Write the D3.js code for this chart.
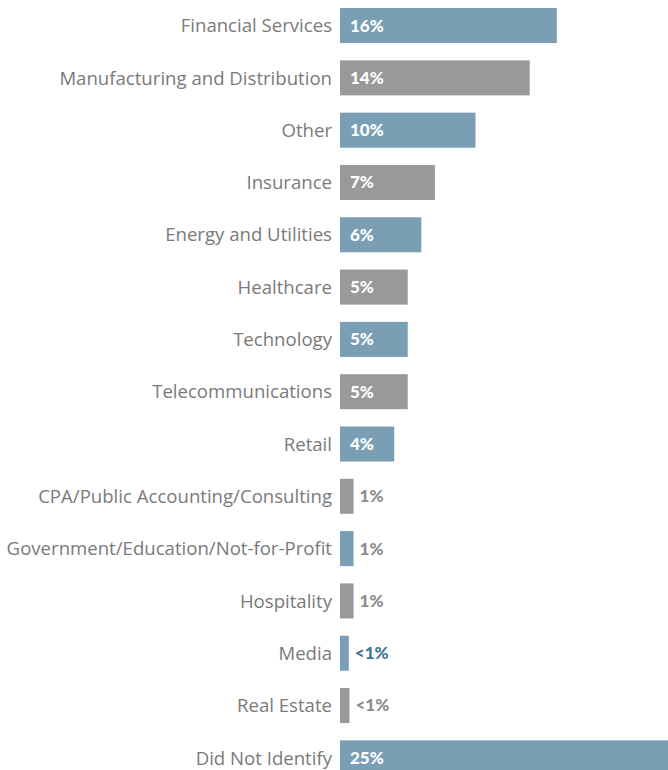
<!DOCTYPE html>
<html>
<head>
<meta charset="utf-8">
<script src="https://cdn.jsdelivr.net/npm/d3@7"></script>
<style>
  html, body { margin: 0; padding: 0; background: #fff; }
  svg { display: block; }
</style>
</head>
<body>
<svg id="chart" width="668" height="770"></svg>
<script>
// Industry breakdown of respondents
const categories = [
  "Financial Services",
  "Manufacturing and Distribution",
  "Other",
  "Insurance",
  "Energy and Utilities",
  "Healthcare",
  "Technology",
  "Telecommunications",
  "Retail",
  "CPA/Public Accounting/Consulting",
  "Government/Education/Not-for-Profit",
  "Hospitality",
  "Media",
  "Real Estate",
  "Did Not Identify"
];
const values = [16, 14, 10, 7, 6, 5, 5, 5, 4, 1, 1, 1, 0.65, 0.7, 25];
const valueLabels = ["16%", "14%", "10%", "7%", "6%", "5%", "5%", "5%", "4%", "1%", "1%", "1%", "<1%", "<1%", "25%"];

const BLUE = "#7a9fb5", GREY = "#999999";
const barColor = i => (i % 2 === 0 ? BLUE : GREY);
const x0 = 340;

const svg = d3.select("#chart");

const x = d3.scaleLinear().domain([0, 25]).range([x0, x0 + 25 * 13.55]);
const y = d3.scaleBand()
  .domain(categories)
  .range([-0.6, 784])
  .paddingInner(0.33)
  .paddingOuter(0.165);

const rows = svg.selectAll("g.row")
  .data(categories.map((c, i) => ({ c, v: values[i], lab: valueLabels[i], i })))
  .join("g")
  .attr("class", "row");

rows.append("rect")
  .attr("x", x(0))
  .attr("y", d => y(d.c))
  .attr("width", d => x(d.v) - x(0))
  .attr("height", y.bandwidth())
  .attr("fill", d => barColor(d.i));

// category names, right-aligned against the bars
rows.append("text")
  .attr("x", x0 - 8)
  .attr("y", d => y(d.c) + y.bandwidth() / 2)
  .attr("dy", "0.36em")
  .attr("text-anchor", "end")
  .attr("font-family", "'Open Sans', sans-serif")
  .attr("font-size", 18.6)
  .attr("fill", "#7a7a7a")
  .text(d => d.c);

// value labels: inside wide bars, just past the end of narrow ones
rows.append("text")
  .attr("x", d => (d.v >= 3 ? x(0) + 10 : x(d.v) + 6))
  .attr("y", d => y(d.c) + y.bandwidth() / 2)
  .attr("dy", "0.35em")
  .attr("font-family", "Lato, sans-serif")
  .attr("font-weight", "900")
  .attr("font-size", 17)
  .attr("fill", d => (d.v >= 3 ? "#fff" : d.c === "Media" ? "#3f7397" : "#8c8c8c"))
  .text(d => d.lab);
</script>
</body>
</html>
